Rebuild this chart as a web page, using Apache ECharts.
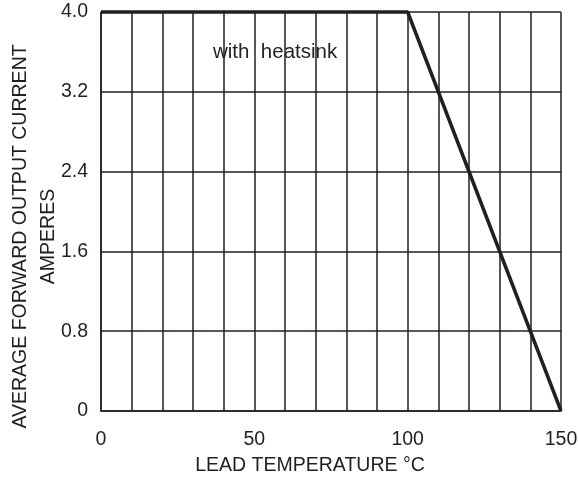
<!DOCTYPE html>
<html>
<head>
<meta charset="utf-8">
<script src="https://cdn.jsdelivr.net/npm/echarts@6/dist/echarts.min.js"></script>
<style>
html,body{margin:0;padding:0;background:#fff;}
#chart{width:578px;height:479px;}
</style>
</head>
<body>
<div id="chart"></div>
<script>
var leadTemp = [0, 100, 150];
var current = [4.0, 4.0, 0];
var xTickLabels = [0, 50, 100, 150];
var yTickLabels = ['0', '0.8', '1.6', '2.4', '3.2', '4.0'];
var xTitle = 'LEAD TEMPERATURE \u00B0C';
var yTitle = 'AVERAGE FORWARD OUTPUT CURRENT\nAMPERES';
var note = 'with  heatsink';

var ink = '#231f20';
var font = 'Liberation Sans, Arial, Helvetica, sans-serif';
var fs = 19.5;
var chart = echarts.init(document.getElementById('chart'));
chart.setOption({
  backgroundColor: '#fff',
  animation: false,
  grid: {left: 101, right: 17, top: 12, bottom: 68, containLabel: false, outerBoundsMode: 'none'},
  xAxis: {
    type: 'value', min: 0, max: 150, interval: 50,
    name: xTitle, nameLocation: 'middle', nameGap: 45, nameMoveOverlap: false,
    nameTextStyle: {fontSize: fs, color: ink, fontFamily: font, padding: [0, 42, 0, 0]},
    axisLine: {show: true, lineStyle: {color: ink, width: 1.5}},
    axisTick: {show: false},
    minorTick: {show: false, splitNumber: 5},
    splitLine: {show: true, lineStyle: {color: ink, width: 1.5}},
    minorSplitLine: {show: true, lineStyle: {color: ink, width: 1.5}},
    axisLabel: {fontSize: fs, color: ink, fontFamily: font, margin: 19,
      formatter: function (v) { return xTickLabels.indexOf(v) >= 0 ? String(v) : ''; }}
  },
  yAxis: {
    type: 'value', min: 0, max: 4.0, interval: 0.8,
    name: yTitle, nameLocation: 'middle', nameGap: 38.5, nameMoveOverlap: false,
    nameTextStyle: {fontSize: fs, color: ink, fontFamily: font, lineHeight: 28, align: 'center', padding: [0, 50, 0, 0]},
    axisLine: {show: true, lineStyle: {color: ink, width: 1.5}},
    axisTick: {show: false},
    splitLine: {show: true, lineStyle: {color: ink, width: 1.5}},
    axisLabel: {fontSize: fs, color: ink, fontFamily: font, margin: 13,
      formatter: function (v) { var i = Math.round(v / 0.8); return yTickLabels[i]; }}
  },
  graphic: [{
    type: 'text', left: 213, top: 42,
    style: {text: note, fill: ink, font: '20.5px ' + font}
  }],
  series: [{
    type: 'line',
    data: leadTemp.map(function (t, i) { return [t, current[i]]; }),
    symbol: 'none',
    lineStyle: {color: ink, width: 3.5},
    clip: false
  }]
});
</script>
</body>
</html>
